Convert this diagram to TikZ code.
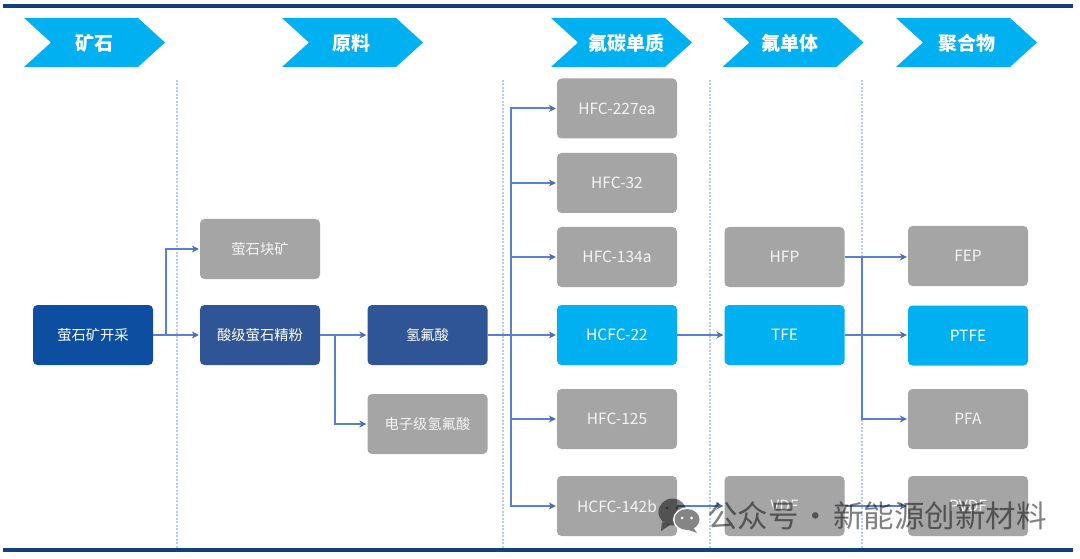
\documentclass[tikz,border=0pt]{standalone}
\usepackage{fontspec}
\setmainfont{Noto Sans CJK SC}
\usetikzlibrary{arrows.meta,calc}
\definecolor{cyanbox}{HTML}{00B0F0}
\definecolor{minebox}{HTML}{0D4EA0}
\definecolor{navybox}{HTML}{2F5597}
\definecolor{greybox}{HTML}{A5A5A5}
\definecolor{connblue}{HTML}{5B80D0}
\definecolor{sepblue}{HTML}{B9CBEF}
\definecolor{rulenavy}{HTML}{123F80}
\tikzset{
  x=1pt,y=-1pt,
  flowbox/.style={rounded corners=4.5pt,minimum width=120pt,minimum height=60pt,inner sep=0pt,
    text=white,font=\fontsize{14.3}{16}\selectfont},
  greyfill/.style={flowbox,fill=greybox,text=white!88!greybox},
  navyfill/.style={flowbox,fill=navybox},
  minefill/.style={flowbox,fill=minebox},
  cyanfill/.style={flowbox,fill=cyanbox},
  latinsize/.style={font=\fontsize{15.5}{18}\selectfont},
  conn/.style={draw=connblue,line width=2pt,-{Stealth[length=7pt,width=7pt,color=connblue!85!black]},shorten >=1pt},
  sep/.style={draw=sepblue,line width=1.2pt,dash pattern=on 2pt off 1.5pt},
  rulebar/.style={draw=rulenavy,line width=3.4pt},
  chevfill/.style={fill=cyanbox},
  chevtext/.style={text=white,font=\fontsize{19}{22}\bfseries\selectfont,inner sep=0pt},
  markfont/.style={text=black,opacity=0.5,font=\fontsize{30.5}{34}\selectfont,inner sep=0pt,anchor=west}
}
\newcommand{\chevron}[4]{% left x, name, label, text centre x
  \fill[chevfill] (#1,18) -- ++(114,0) -- ++(27,24.5) -- ++(-27,24.5) -- ++(-114,0) -- ++(27,-24.5) -- cycle;
  \node[chevtext] (#2) at (#4,43) {#3};
}
\begin{document}
\begin{tikzpicture}
\useasboundingbox (0,0) rectangle (1080,559);
\fill[white] (0,0) rectangle (1080,559);
% rules
\coordinate (tl) at (3,6); \coordinate (tr) at (1073,6);
\coordinate (bl) at (3,550); \coordinate (br) at (1073,550);
\draw[rulebar] (tl) -- (tr);
\draw[rulebar] (bl) -- (br);
% separators
\foreach \sx in {177,503,710,862}{
  \draw[sep] (\sx,80) -- (\sx,548);
}
% headers
\chevron{24}{hA}{矿石}{94}
\chevron{282}{hB}{原料}{351}
\chevron{551}{hC}{氟碳单质}{626}
\chevron{722.5}{hD}{氟单体}{790}
\chevron{896}{hE}{聚合物}{967}
% boxes
\node[minefill] (mine) at (93,335) {萤石矿开采};
\node[greyfill] (lump) at (260,249) {萤石块矿};
\node[navyfill] (acid) at (260,335) {酸级萤石精粉};
\node[navyfill] (hf) at (427.5,335) {氢氟酸};
\node[greyfill] (ehf) at (427.5,424) {电子级氢氟酸};
\node[greyfill,latinsize] (a227) at (617,108.5) {HFC-227ea};
\node[greyfill,latinsize] (a32) at (617,183) {HFC-32};
\node[greyfill,latinsize] (a134) at (617,257) {HFC-134a};
\node[cyanfill,latinsize] (a22) at (617,335) {HCFC-22};
\node[greyfill,latinsize] (a125) at (617,419) {HFC-125};
\node[greyfill,latinsize] (a142) at (617,506) {HCFC-142b};
\node[greyfill,latinsize] (hfp) at (784.5,257) {HFP};
\node[cyanfill,latinsize] (tfe) at (784.5,335) {TFE};
\node[greyfill,latinsize] (vdf) at (784.5,506) {VDF};
\node[greyfill,latinsize] (fep) at (968,256) {FEP};
\node[cyanfill,latinsize] (ptfe) at (968,335.5) {PTFE};
\node[greyfill,latinsize] (pfa) at (968,419) {PFA};
\node[greyfill,latinsize] (pvdf) at (968,506) {PVDF};
% connectors
\coordinate (j1) at (166,335);
\coordinate (j2) at (335,335);
\coordinate (j3) at (511,335);
\coordinate (j4) at (862,257);
\draw[conn] (mine.east) -- (acid.west);
\draw[conn] (j1) |- (lump.west);
\draw[conn] (acid.east) -- (hf.west);
\draw[conn] (j2) |- (ehf.west);
\draw[conn] (hf.east) -- (a22.west);
\draw[conn] (j3) |- (a227.west);
\draw[conn] (j3) |- (a32.west);
\draw[conn] (j3) |- (a134.west);
\draw[conn] (j3) |- (a125.west);
\draw[conn] (j3) |- (a142.west);
\draw[conn] (a22.east) -- (tfe.west);
\draw[conn] (tfe.east) -- (ptfe.west |- tfe.east);
\draw[conn] (hfp.east) -- (fep.west |- hfp.east);
\draw[conn] (j4) |- (pfa.west);
\draw[conn] (a142.east) -- (vdf.west);
\draw[conn] (vdf.east) -- (pvdf.west);
% watermark
\fill[black,opacity=0.5] (672.5,512) ellipse [x radius=14,y radius=13.5];
\fill[black,opacity=0.5] (662,522) -- (661,531) -- (670,525) -- cycle;
\fill[white] (687,519.5) ellipse [x radius=14,y radius=12];
\fill[black!48] (687,519.5) ellipse [x radius=12.5,y radius=10.5];
\fill[black!48] (693,527) -- (697,533) -- (686,529) -- cycle;
\fill[white] (682,518) circle (1.5);
\fill[white] (691.5,518) circle (1.5);
\fill[white!20!black] (667,508) circle (1.7);
\fill[white!20!black] (677,508) circle (1.7);
\node[markfont] (wm) at (707,516) {公众号\hspace{2pt}·\hspace{2pt}新能源创新材料};
\end{tikzpicture}
\end{document}
